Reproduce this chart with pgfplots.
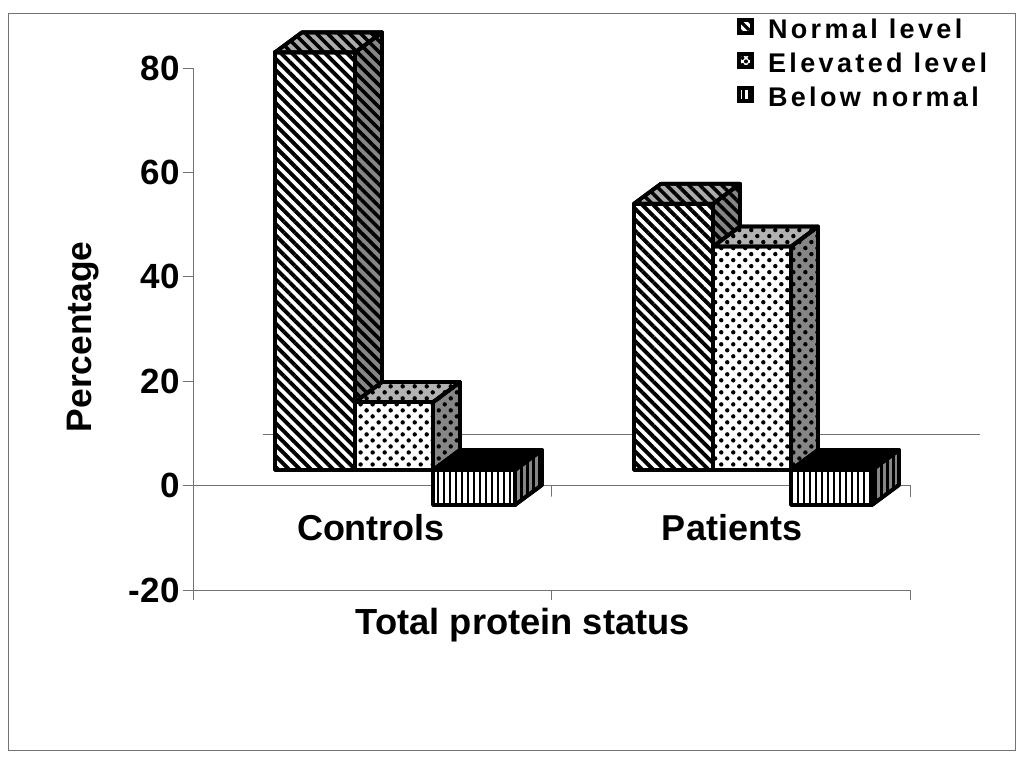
\documentclass[border=0pt]{standalone}
\usepackage{fontspec}
\setmainfont{Liberation Sans}
\newfontfamily\legfont[LetterSpace=12.5]{Liberation Sans}
\usepackage{pgfplots}
\pgfplotsset{compat=1.18}
\usetikzlibrary{patterns.meta}

% face styles of the 3D bars
\pgfplotsset{
  face/.style={draw=black, line width=3.8pt, line join=round, forget plot},
  stripefront/.style={face, preaction={fill=white}, pattern={Lines[angle=-45,distance=7.8pt,line width=3.9pt]}},
  stripeside/.style={face, preaction={fill=gray!95}, pattern={Lines[angle=-45,distance=7.8pt,line width=3.6pt]}},
  stripetop/.style={face, preaction={fill=gray!65}, pattern={Lines[angle=-45,distance=7.8pt,line width=3.6pt]}},
  dotfront/.style={face, preaction={fill=white}, pattern={Dots[angle=45,distance=8.5pt,radius=2.2pt]}},
  dotside/.style={face, preaction={fill=gray!95}, pattern={Dots[angle=45,distance=8.5pt,radius=2.2pt]}},
  dottop/.style={face, preaction={fill=gray!60}, pattern={Dots[angle=45,distance=8.5pt,radius=2.2pt]}},
  vertfront/.style={face, preaction={fill=white}, pattern={Lines[angle=90,distance=6pt,line width=2.7pt]}},
  vertside/.style={face, preaction={fill=gray!95}, pattern={Lines[angle=90,distance=6pt,line width=3pt]}},
  verttop/.style={face, fill=black},
}

% #1 left, #2 right, #3 value, #4 front, #5 side, #6 top
\newcommand{\threedbar}[6]{%
  \pgfmathsetmacro\ya{min(3,3+#3)}%
  \pgfmathsetmacro\yb{max(3,3+#3)}%
  \pgfmathsetmacro\yc{\ya+3.83}%
  \pgfmathsetmacro\yd{\yb+3.83}%
  \pgfmathsetmacro\xc{#1+0.0753}%
  \pgfmathsetmacro\xd{#2+0.0753}%
  \edef\temp{%
    \noexpand\addplot[#4] coordinates {(#1,\ya) (#2,\ya) (#2,\yb) (#1,\yb)} --cycle;
    \noexpand\addplot[#5] coordinates {(#2,\ya) (\xd,\yc) (\xd,\yd) (#2,\yb)} --cycle;
    \noexpand\addplot[#6] coordinates {(#1,\yb) (\xc,\yd) (\xd,\yd) (#2,\yb)} --cycle;
  }\temp
}

\begin{document}
\begin{tikzpicture}
\begin{axis}[
    scale only axis,
    width=717pt, height=522pt,
    xmin=0, xmax=2,
    ymin=-20, ymax=80,
    clip=false,
    axis lines=left,
    axis line style={-, draw=gray!90!black, line width=1pt},
    tick style={draw=gray!90!black, line width=1pt},
    tick align=outside,
    major tick length=10pt,
    xtick={0,1,2},
    xticklabels={},
    ytick={-20,0,20,40,60,80},
    extra x ticks={0.4965,1.5035},
    extra x tick labels={Controls,Patients},
    extra x tick style={major tick length=0pt, xticklabel style={yshift=79pt, font=\fontsize{36}{39}\selectfont\bfseries}},
    tick label style={font=\fontsize{35}{38}\selectfont\bfseries},
    /pgf/number format/assume math mode=true,
    xlabel={Total protein status},
    ylabel={Percentage},
    xlabel style={at={(axis description cs:0.46,-0.059)}, anchor=center, yshift=-4pt, font=\fontsize{36.3}{39}\selectfont\bfseries},
    ylabel style={at={(axis description cs:-0.1576,0.485)}, anchor=center, yshift=-3pt, font=\fontsize{35.4}{38}\selectfont\bfseries},
    legend style={at={(axis cs:1.5095,90.27)}, anchor=north west, draw=none, fill=none,
      font=\legfont\fontsize{27}{30}\selectfont\bfseries, row sep=9pt},
    legend cell align=left,
]

% outer frame
\addplot[draw=gray!90!black, line width=1pt, forget plot]
  coordinates {(-0.516,90.5) (2.2929,90.5) (2.2929,-50.65) (-0.516,-50.65)} --cycle;
% zero line with its ticks, and the back wall's line
\addplot[draw=gray!90!black, line width=1pt, forget plot]
  coordinates {(0,0) (1,0) (1,-2.1) (1,0) (2,0) (2,-2.1)};
\addplot[draw=gray!90!black, line width=1pt, forget plot]
  coordinates {(0.195,9.77) (2.196,9.77)};

% Controls
\threedbar{0.2287}{0.4519}{80}{stripefront}{stripeside}{stripetop}
\threedbar{0.4519}{0.6695}{13}{dotfront}{dotside}{dottop}
\threedbar{0.6695}{0.8982}{-6.7}{vertfront}{vertside}{verttop}
% Patients
\threedbar{1.2301}{1.4505}{51}{stripefront}{stripeside}{stripetop}
\threedbar{1.4505}{1.6681}{42.8}{dotfront}{dotside}{dottop}
\threedbar{1.6681}{1.8940}{-6.7}{vertfront}{vertside}{verttop}

\addlegendimage{legend image code/.code={\draw[line width=3.8pt, preaction={fill=white}, pattern={Lines[angle=-45,distance=6.6pt,line width=3.2pt]}] (0pt,-4pt) rectangle (13pt,9pt); \path[draw=none] (0pt,0pt) -- (26.75pt,0pt);}}
\addlegendentry{Normal level}
\addlegendimage{legend image code/.code={\draw[line width=3.8pt, preaction={fill=white}, pattern={Dots[angle=45,distance=5pt,radius=2pt]}] (0pt,-4pt) rectangle (13pt,9pt); \path[draw=none] (0pt,0pt) -- (26.75pt,0pt);}}
\addlegendentry{Elevated level}
\addlegendimage{legend image code/.code={\draw[line width=3.8pt, preaction={fill=white}, pattern={Lines[angle=90,distance=6pt,line width=3pt]}] (0pt,-4pt) rectangle (13pt,9pt); \path[draw=none] (0pt,0pt) -- (26.75pt,0pt);}}
\addlegendentry{Below normal}

% page extent
\path (axis cs:-0.5384,93.03) rectangle (axis cs:2.318,-53.52);
\end{axis}
\end{tikzpicture}
\end{document}
